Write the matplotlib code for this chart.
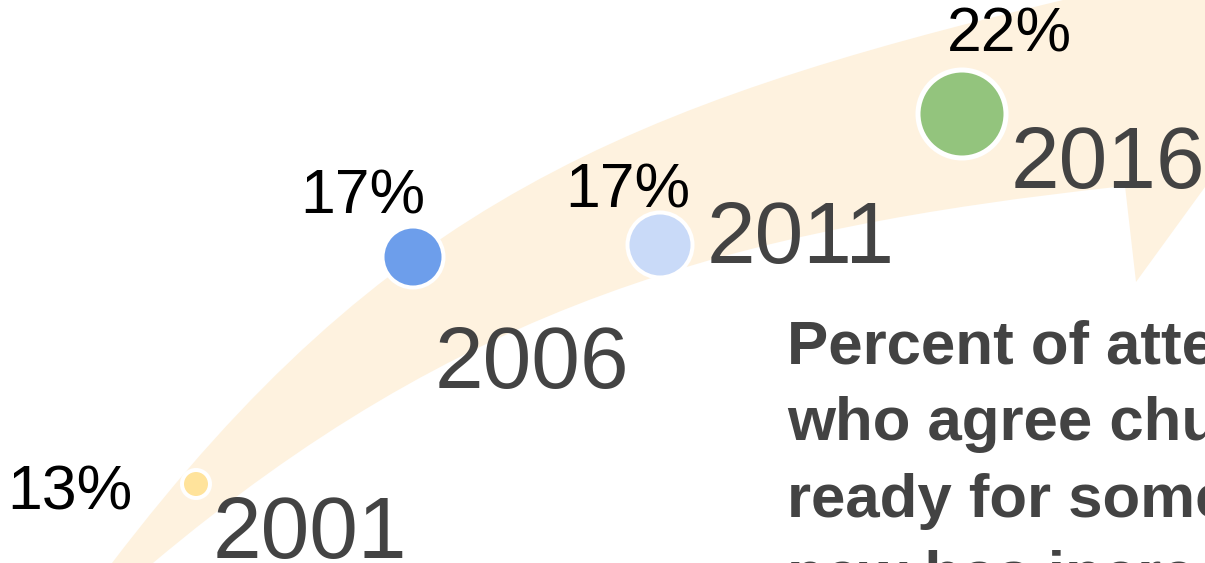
import matplotlib.pyplot as plt
from matplotlib.path import Path
from matplotlib.patches import PathPatch, Circle

plt.rcParams['font.family'] = ['Liberation Sans', 'DejaVu Sans']

# data
years = [2001, 2006, 2011, 2016]
pct = [13, 17, 17, 22]
caption = ["Percent of attenders", "who agree church is",
           "ready for something", "new has increased"]

# layout (pixel space of the 1205x563 canvas)
pt_x = [196, 413, 660, 962]
pt_y = [484, 257, 245, 114]
pt_r = [12, 28.5, 30.5, 41.5]
pt_edge = [4, 4, 4, 5]
pt_col = ['#ffe39b', '#6d9eeb', '#c9daf8', '#93c47d']
pct_dx = [-63, -50, -32, 47]
pct_dy = [26, -44, -37, -62]
pct_ha = ['right', 'center', 'center', 'center']
yr_dx = [17, 22, 47, 49]
yr_dy = [74, 131, 18, 74]

fig = plt.figure(figsize=(12.05, 5.63), dpi=100)
ax = fig.add_axes([0, 0, 1, 1])
ax.set_xlim(0, 1205)
ax.set_ylim(563, 0)
ax.axis('off')

# curved arrow behind everything
verts = [(88, 595), (112, 563),
         (385, 205), (625, 105), (1063, 0),
         (1199, -33), (1150, -150), (1330, 15),
         (1136, 282), (1125, 186),
         (727, 229), (459, 306), (153, 563),
         (122, 589), (88, 595)]
codes = [Path.MOVETO, Path.LINETO,
         Path.CURVE4, Path.CURVE4, Path.CURVE4,
         Path.LINETO, Path.LINETO, Path.LINETO,
         Path.LINETO, Path.LINETO,
         Path.CURVE4, Path.CURVE4, Path.CURVE4,
         Path.LINETO, Path.CLOSEPOLY]
ax.add_patch(PathPatch(Path(verts, codes), facecolor='#fef2df',
                       edgecolor='none', zorder=0))

for i in range(len(years)):
    ax.add_patch(Circle((pt_x[i], pt_y[i]), pt_r[i] + pt_edge[i] / 2,
                        facecolor=pt_col[i], edgecolor='white',
                        linewidth=pt_edge[i] * 0.72, zorder=3))
    ax.text(pt_x[i] + pct_dx[i], pt_y[i] + pct_dy[i], f"{pct[i]}%",
            fontsize=45, color='black', ha=pct_ha[i], va='baseline', zorder=4)
    ax.text(pt_x[i] + yr_dx[i], pt_y[i] + yr_dy[i], str(years[i]),
            fontsize=63, color='#434343', ha='left', va='baseline', zorder=4)

for j, line in enumerate(caption):
    ax.text(787, 363 + j * 77, line, fontsize=44.5, fontweight='bold',
            color='#434343', ha='left', va='baseline', zorder=4)

fig.savefig('out.png', dpi=100)
